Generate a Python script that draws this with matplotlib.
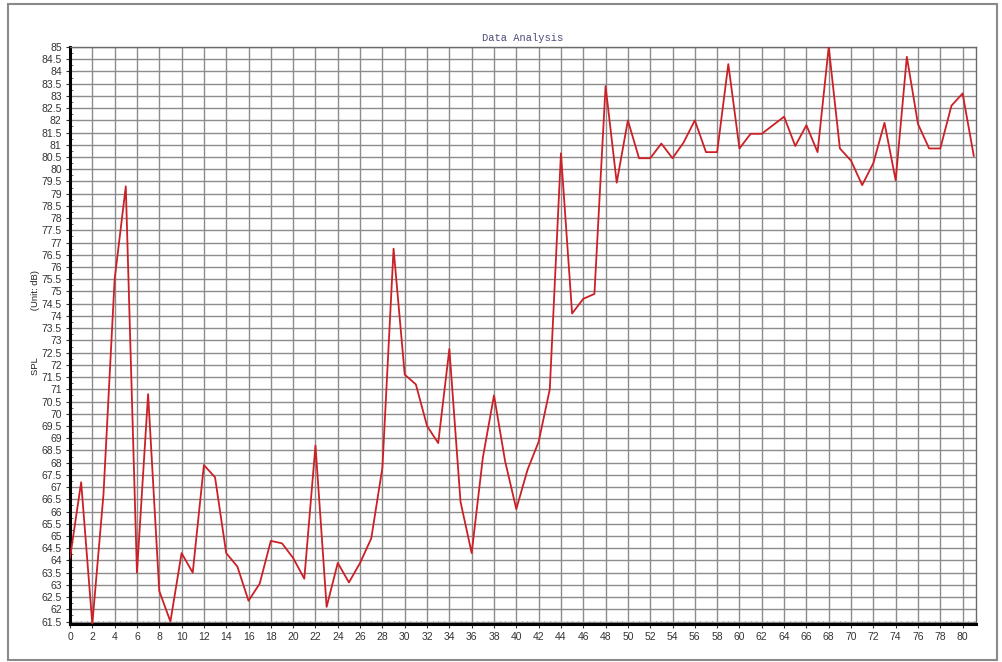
import numpy as np
import matplotlib
matplotlib.use("Agg")
import matplotlib.pyplot as plt
from matplotlib.patches import Rectangle
from matplotlib.ticker import MultipleLocator

# sample index and measured sound pressure level (dB)
samples = list(range(82))
spl = [
    64.1, 67.2, 61.4, 66.7, 75.5, 79.3, 63.5, 70.8, 62.75, 61.5,
    64.3, 63.5, 67.9, 67.4, 64.3, 63.75, 62.35, 63.05, 64.8, 64.7,
    64.1, 63.25, 68.7, 62.1, 63.9, 63.1, 63.9, 64.9, 67.8, 76.75,
    71.6, 71.2, 69.5, 68.8, 72.65, 66.4, 64.3, 68.2, 70.75, 68.05,
    66.1, 67.7, 68.85, 71.0, 80.65, 74.1, 74.7, 74.9, 83.4, 79.45,
    82.0, 80.45, 80.45, 81.05, 80.45, 81.1, 82.0, 80.7, 80.7, 84.3,
    80.85, 81.45, 81.45, 81.8, 82.15, 80.95, 81.8, 80.7, 85.0, 80.85,
    80.35, 79.35, 80.25, 81.9, 79.55, 84.6, 81.85, 80.85, 80.85, 82.6,
    83.1, 80.55,
]

x_ticks = np.arange(0, 82, 2)
y_ticks = np.arange(61.5, 85.01, 0.5)

fig = plt.figure(figsize=(10.02, 6.62), dpi=100)
ax = fig.add_axes([70 / 1002, 1 - 624 / 662, 906 / 1002, 577 / 662])

# outer frame around the whole figure
fig.patches.append(Rectangle((8 / 1002, 2 / 662), 989 / 1002, 656 / 662,
                             transform=fig.transFigure, fill=False,
                             edgecolor="#8a8a8a", linewidth=1.5))

ax.plot(samples, spl, color="#cc2027", linewidth=1.3, zorder=3)

ax.set_xlim(0, 81.2)
ax.set_ylim(61.4, 85.0)
ax.set_xticks(x_ticks)
ax.set_yticks(y_ticks)
ax.set_yticklabels([f"{v:g}" for v in y_ticks])
ax.xaxis.set_minor_locator(MultipleLocator(0.5))
ax.yaxis.set_minor_locator(MultipleLocator(0.25))

ax.grid(True, which="major", color="#8c8c8c", linewidth=1.0)
ax.set_axisbelow(True)

for side in ("left", "bottom"):
    ax.spines[side].set_color("black")
    ax.spines[side].set_linewidth(2.2)
for side in ("top", "right"):
    ax.spines[side].set_color("#6a6a6a")
    ax.spines[side].set_linewidth(1.0)

ax.tick_params(which="major", direction="out", length=3, width=0.8,
               colors="#333333", labelsize=7.5, pad=3)
ax.tick_params(which="minor", direction="in", length=2, width=0.6,
               color="#555555")
for lbl in ax.get_xticklabels() + ax.get_yticklabels():
    lbl.set_family("Liberation Sans")

ax.set_title("Data Analysis", fontsize=7.5, family="Liberation Mono",
             color="#4a4a7a", pad=4)

ax.set_ylabel("SPL                  (Unit: dB)", fontsize=6.8,
              family="Liberation Sans", color="#222222")
ax.yaxis.set_label_coords(-0.033, 0.523)

fig.savefig("out.png", dpi=100, facecolor="white")
